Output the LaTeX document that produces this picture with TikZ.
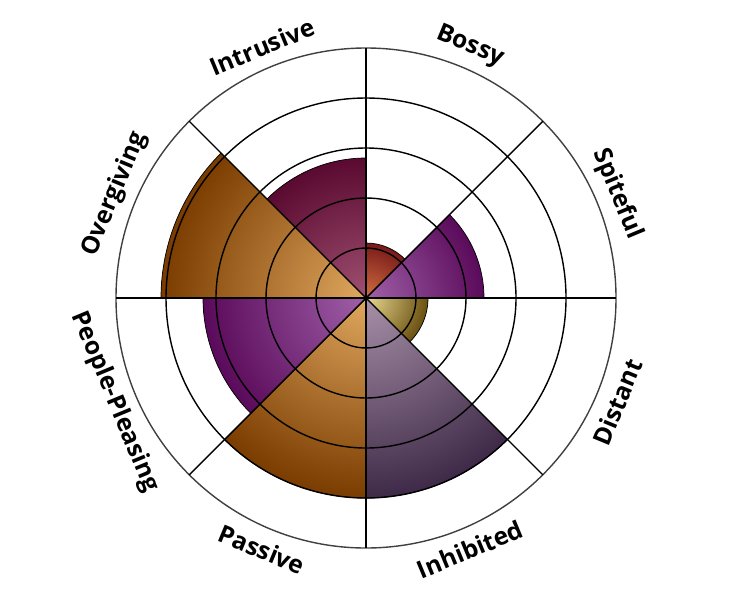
\documentclass[tikz,border=0pt]{standalone}
\usepackage{fontspec}
\setmainfont{Open Sans}
\usetikzlibrary{calc}
\definecolor{orgLight}{HTML}{E0A860}
\definecolor{orgDark}{HTML}{7A3C00}
\definecolor{purLight}{HTML}{A060A8}
\definecolor{purDark}{HTML}{5A0A5A}
\definecolor{marLight}{HTML}{A05070}
\definecolor{marDark}{HTML}{5A0A30}
\definecolor{lilLight}{HTML}{A890A8}
\definecolor{lilDark}{HTML}{3E2A48}
\definecolor{redLight}{HTML}{D07040}
\definecolor{redDark}{HTML}{7A1A1A}
\definecolor{oliLight}{HTML}{E8D890}
\definecolor{oliDark}{HTML}{6A5010}
\begin{document}
\begin{tikzpicture}[x=0.02cm,y=0.02cm,
    lbl/.style={font=\fontsize{14}{16}\selectfont\bfseries}]
				\useasboundingbox (0,0) rectangle (732,600);
				\coordinate (c) at (366,302);
				
				% sectors: start angle / end angle / radius / light / dark
				\foreach \a/\b/\r/\cl/\cd in {45/90/55/redLight/redDark,
					0/45/118/purLight/purDark,
					-45/0/62/oliLight/oliDark,
					-90/-45/200/lilLight/lilDark,
					-135/-90/200/orgLight/orgDark,
					180/225/163/purLight/purDark,
					135/180/205/orgLight/orgDark,
					90/135/140/marLight/marDark}{
					\begin{scope}
						\clip (c) -- ++(\a:\r) arc (\a:\b:\r) -- cycle;
						\shade[inner color=\cl, outer color=\cd] (c) circle (\r);
					\end{scope}
					\draw[thin] (c) -- ++(\a:\r) arc (\a:\b:\r) -- cycle;
				}
				
				% grid
				\foreach \r in {50, 100, 150, 200}{
					\draw[thick] (c) circle (\r);
				}
				\draw[thick, black!75] (c) circle (250);
				\foreach \t in {0, 45, ..., 315}{
					\draw[thick] (c) -- ++(\t:250);
				}
				
				% labels
				\node[lbl, rotate=-22.5] (bossy) at ($(c)+(67.5:272)$) {Bossy};
				\node[lbl, rotate=-67.5] (spiteful) at ($(c)+(22.5:272)$) {Spiteful};
				\node[lbl, rotate=67.5] (distant) at ($(c)+(-22.5:272)$) {Distant};
				\node[lbl, rotate=22.5] (inhibited) at ($(c)+(-67.5:272)$) {Inhibited};
				\node[lbl, rotate=-22.5] (passive) at ($(c)+(-112.5:272)$) {Passive};
				\node[lbl, rotate=-67.5] (pleasing) at ($(c)+(-157.5:272)$) {People-Pleasing};
				\node[lbl, rotate=67.5] (overgiving) at ($(c)+(157.5:272)$) {Overgiving};
				\node[lbl, rotate=22.5] (intrusive) at ($(c)+(112.5:272)$) {Intrusive};
\end{tikzpicture}
\end{document}
